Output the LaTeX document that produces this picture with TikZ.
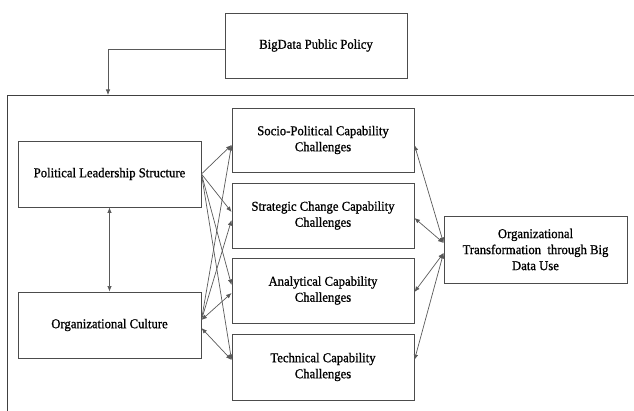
\documentclass[tikz,border=0pt]{standalone}
\usepackage{fontspec}
\setmainfont[FakeBold=1.0,FakeStretch=0.94]{Liberation Serif}
\usetikzlibrary{arrows.meta,calc}
\begin{document}
\begin{tikzpicture}[x=1pt,y=-1pt,
  box/.style={draw=black!70,line width=0.9pt,minimum width=#1,align=center,inner sep=0pt,font=\fontsize{13.5}{16}\selectfont},
  box/.default=183pt,
  link/.style={draw=black!65,line width=0.7pt,-{Latex[length=5.5pt,width=4.5pt]}},
  blink/.style={draw=black!65,line width=0.7pt,{Latex[length=5.5pt,width=4.5pt]}-{Latex[length=5.5pt,width=4.5pt]}},
  frameline/.style={draw=black!75,line width=0.9pt}]
\useasboundingbox (0,0) rectangle (634,411);
% nodes
\node[box=182pt,minimum height=65pt] (bd) at (316,45.5) {BigData Public Policy};
\node[box,minimum height=66pt] (pls) at (109.5,174) {Political Leadership Structure};
\node[box,minimum height=66pt] (oc) at (109.5,325) {Organizational Culture};
\node[box=182pt,minimum height=64pt] (socio) at (323,140) {Socio-Political Capability\\Challenges};
\node[box=182pt,minimum height=65pt] (strat) at (323,215.5) {Strategic Change Capability\\Challenges};
\node[box=182pt,minimum height=65pt] (anal) at (323,290.5) {Analytical Capability\\Challenges};
\node[box=182pt,minimum height=66pt] (tech) at (323,367) {Technical Capability\\Challenges};
\node[box=183pt,minimum height=67pt] (ot) at (535.5,249.5) {Organizational\\Transformation\ \ through Big\\Data Use};
% frame
\coordinate (fbl) at (7,411);
\coordinate (ftl) at (7,95);
\coordinate (ftr) at (634,95);
\coordinate (fin) at (108,95);
\draw[frameline] (fbl) -- (ftl) -- (ftr);
\draw[link] ($(bd.west)+(0,3.5)$) -| (fin);
% left links
\draw[blink] (pls.south) -- (oc.north);
\draw[link] (pls.east) -- ($(socio.west)+(0,5)$);
\draw[link] (pls.east) -- ($(strat.west)+(0,-3.5)$);
\draw[link] (pls.east) -- ($(anal.west)+(0,-5.5)$);
\draw[link] (pls.east) -- ($(tech.west)+(0,-7)$);
\draw[link] ($(oc.east)+(0,-5)$) -- ($(socio.west)+(0,5)$);
\draw[link] ($(oc.east)+(0,-5)$) -- ($(strat.west)+(0,4.5)$);
\draw[blink] ($(oc.east)+(0,-5)$) -- ($(anal.west)+(0,2.5)$);
\draw[blink] ($(oc.east)+(0,3)$) -- ($(tech.west)+(0,-7)$);
% right links
\draw[blink] ($(socio.east)+(0,5)$) -- ($(ot.west)+(0,-6.5)$);
\draw[blink] ($(strat.east)+(0,2.5)$) -- ($(ot.west)+(0,-6.5)$);
\draw[blink] ($(anal.east)+(0,1.5)$) -- ($(ot.west)+(0,3.5)$);
\draw[blink] ($(tech.east)+(0,-7)$) -- ($(ot.west)+(0,3.5)$);
\end{tikzpicture}
\end{document}
